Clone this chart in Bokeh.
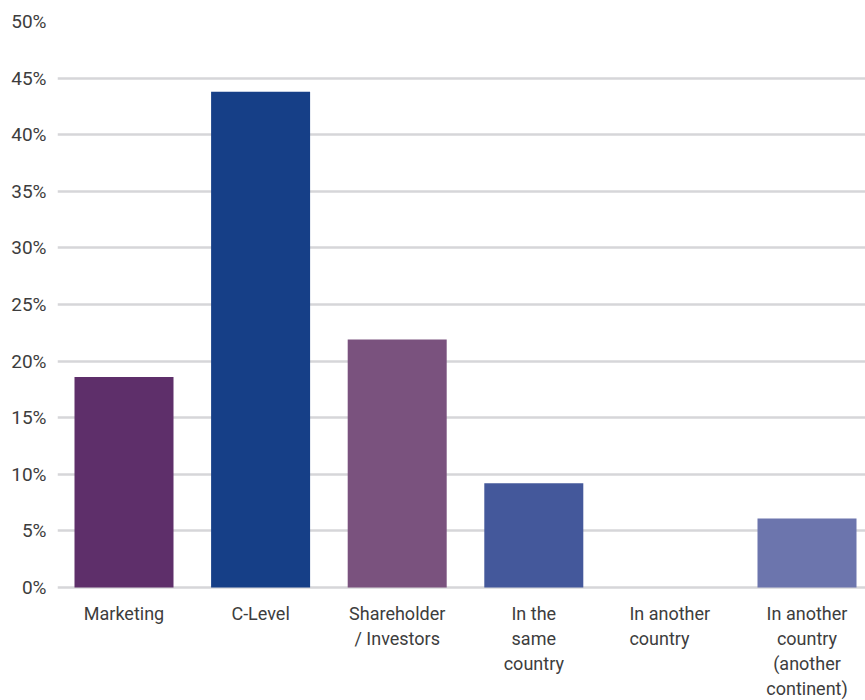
from bokeh.plotting import figure
from bokeh.models import Range1d, FixedTicker, ColumnDataSource
from bokeh.core.properties import value
from bokeh.embed import file_html
from bokeh.resources import INLINE

categories = ["Marketing", "C-Level", "Shareholder\n/ Investors", "In the\nsame\ncountry",
              "In another\ncountry", "In another\ncountry\n(another\ncontinent)"]
values = [18.6, 43.8, 21.9, 9.2, 0.0, 6.1]
colors = ["#5e2f6a", "#163f87", "#7a527e", "#44589b", "#5a6aa8", "#6c75ad"]
y_ticks = [0, 5, 10, 15, 20, 25, 30, 35, 40, 45, 50]
y_tick_labels = ["0%", "5%", "10%", "15%", "20%", "25%", "30%", "35%", "40%", "45%", "50%"]
label_align = ["center", "center", "center", "center", "left", "center"]
label_xoff = [0, 0, 0, 0, -41, 0]

FONT = "Roboto"
TXT = "#3d3d3d"

# layout in pixels
W, H = 865, 700
frame_left, frame_top = 57, 21
px_per_unit_y = 566 / 50.0
px_per_slot = 136.6
first_center_px = 123.5

x = list(range(len(categories)))
src = ColumnDataSource(dict(x=x, top=values, color=colors, label=categories,
                            align=label_align, xoff=label_xoff, base=[0] * len(x)))

x_start = (frame_left - first_center_px) / px_per_slot
x_end = x_start + (W - frame_left) / px_per_slot
y_bottom = -(H - frame_top - 566) / px_per_unit_y

p = figure(width=W, height=H, output_backend="svg", toolbar_location=None,
           x_range=Range1d(x_start, x_end), y_range=Range1d(y_bottom, 50),
           min_border_left=frame_left, min_border_right=0, min_border_top=frame_top,
           min_border_bottom=0)
p.outline_line_color = None
p.background_fill_color = "white"
p.border_fill_color = "white"

p.vbar(x="x", top="top", bottom=0, width=99 / px_per_slot, fill_color="color",
       line_color=None, source=src)

p.text(x="x", y="base", text="label", source=src, text_align="align",
       text_baseline="top", x_offset="xoff", y_offset=15,
       text_font=value(FONT), text_font_size="18px", text_color=TXT,
       text_line_height=1.2)

p.xaxis.visible = False
p.xgrid.visible = False

ya = p.yaxis[0]
ya.ticker = FixedTicker(ticks=y_ticks)
ya.major_label_overrides = {t: l for t, l in zip(y_ticks, y_tick_labels)}
ya.axis_line_color = None
ya.major_tick_line_color = None
ya.minor_tick_line_color = None
ya.major_label_standoff = 5
ya.major_label_text_font = FONT
ya.major_label_text_font_size = "19px"
ya.major_label_text_color = TXT

p.ygrid.ticker = FixedTicker(ticks=y_ticks)
p.ygrid.grid_line_color = "#d6d6d9"
p.ygrid.grid_line_width = 2.5

open("out.html", "w").write(file_html(p, INLINE))
